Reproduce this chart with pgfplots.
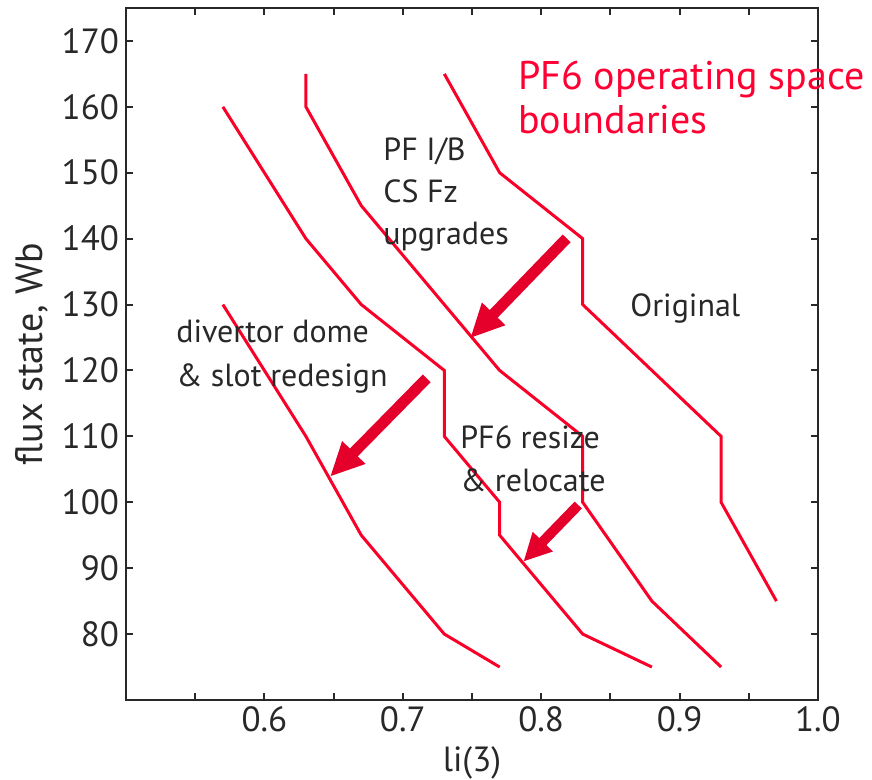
\documentclass[border=0pt]{standalone}
\usepackage{pgfplots}
\pgfplotsset{compat=1.18}
\usepackage{fontspec}
\setmainfont{PT Sans}
\usetikzlibrary{arrows.meta}
\definecolor{bnd}{RGB}{250,0,40}
\definecolor{arr}{RGB}{228,0,43}
\definecolor{ttl}{RGB}{255,0,51}
\definecolor{txt}{RGB}{40,40,40}
\newcommand{\ann}{\fontsize{16}{16}\selectfont}
\begin{document}
\begin{tikzpicture}
\path[use as bounding box] (-63pt,-40pt) rectangle (373pt,350pt);
\begin{axis}[
    at={(0,0)}, anchor=south west,
    scale only axis, width=346pt, height=346pt,
    xmin=0.5, xmax=1.0, ymin=70, ymax=175,
    clip=false,
    axis line style={draw=txt, line width=1pt},
    every tick/.style={draw=txt, line width=1pt},
    tick align=inside,
    major tick length=3.5pt,
    xtick={0.5,0.55,0.6,0.65,0.7,0.75,0.8,0.85,0.9,0.95,1.0},
    xticklabels={,,0.6,,0.7,,0.8,,0.9,,1.0},
    ytick={80,90,...,170},
    /pgf/number format/assume math mode=true,
    tick label style={font=\fontsize{17.5}{17.5}\selectfont, text=txt},
    xlabel style={font=\fontsize{17.5}{17.5}\selectfont, text=txt},
    ylabel style={font=\fontsize{19}{19}\selectfont, text=txt},
    xlabel={li(3)},
    ylabel={flux state, Wb},
]
% divertor dome & slot redesign
\addplot[bnd, line width=1.5pt] coordinates {
(0.57,130) (0.63,110) (0.67,95) (0.73,80) (0.77,75)};
% PF6 resize & relocate
\addplot[bnd, line width=1.5pt] coordinates {
(0.57,160) (0.63,140) (0.67,130) (0.73,120) (0.73,110)
(0.77,100) (0.77,95) (0.83,80) (0.88,75)};
% PF I/B, CS Fz upgrades
\addplot[bnd, line width=1.5pt] coordinates {
(0.63,165) (0.63,160) (0.67,145) (0.77,120) (0.83,110)
(0.83,100) (0.88,85) (0.93,75)};
% original
\addplot[bnd, line width=1.5pt] coordinates {
(0.73,165) (0.77,150) (0.83,140) (0.83,130) (0.88,120)
(0.93,110) (0.93,100) (0.97,85)};

% arrows
\addplot[arr, line width=5.5pt, -{Triangle[length=17pt, width=15pt]}]
  coordinates {(0.8184,140.05) (0.7486,124.88)};
\addplot[arr, line width=5.5pt, -{Triangle[length=17pt, width=15pt]}]
  coordinates {(0.7173,118.81) (0.6474,103.88)};
\addplot[arr, line width=5pt, -{Triangle[length=14pt, width=13pt]}]
  coordinates {(0.8268,99.58) (0.7871,90.98)};

% labels
\node[anchor=base west, inner sep=0pt, text=ttl, font=\fontsize{20}{20}\selectfont]
  at (axis cs:0.7832,162.56) {PF6 operating space};
\node[anchor=base west, inner sep=0pt, text=ttl, font=\fontsize{20}{20}\selectfont]
  at (axis cs:0.7832,155.88) {boundaries};
\node[anchor=base west, inner sep=0pt, text=txt, font=\ann] at (axis cs:0.6857,151.93) {PF I/B};
\node[anchor=base west, inner sep=0pt, text=txt, font=\ann] at (axis cs:0.6857,145.56) {CS Fz};
\node[anchor=base west, inner sep=0pt, text=txt, font=\ann] at (axis cs:0.6857,139.04) {upgrades};
\node[anchor=base west, inner sep=0pt, text=txt, font=\ann] at (axis cs:0.8642,128.26) {Original};
\node[anchor=base west, inner sep=0pt, text=txt, font=\ann] at (axis cs:0.5361,124.17) {divertor dome};
\node[anchor=base west, inner sep=0pt, text=txt, font=\ann] at (axis cs:0.5361,117.64) {\& slot redesign};
\node[anchor=base west, inner sep=0pt, text=txt, font=\ann] at (axis cs:0.7413,108.23) {PF6 resize};
\node[anchor=base west, inner sep=0pt, text=txt, font=\ann] at (axis cs:0.7413,101.56) {\& relocate};
\end{axis}
\end{tikzpicture}
\end{document}
